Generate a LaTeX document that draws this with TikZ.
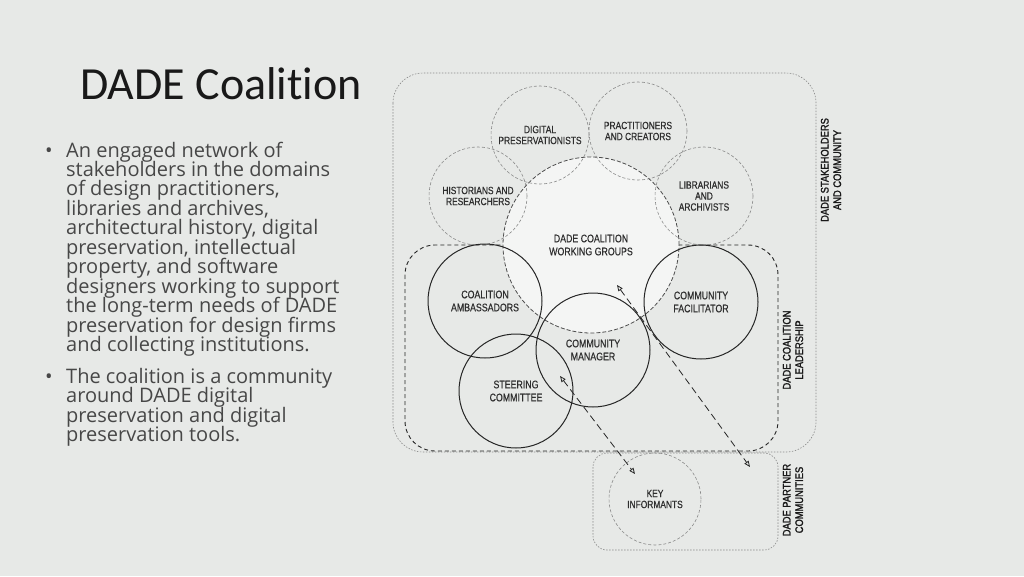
\documentclass[tikz,border=0pt]{standalone}
\usepackage{fontspec}
\setmainfont[Ligatures=NoCommon]{Carlito}
\newfontfamily\bodyfont{Open Sans}
\newfontfamily\diafont[FakeStretch=0.8,FakeBold=0.4]{Liberation Sans}
\newfontfamily\diabold[FakeStretch=0.85,FakeBold=1.6]{Liberation Sans}
\usepackage{xcolor}
\usetikzlibrary{arrows.meta}

\definecolor{slidebg}{HTML}{E7E9E7}
\definecolor{wgfill}{HTML}{F4F5F4}
\definecolor{inkgrey}{HTML}{2E2E2E}
\definecolor{lightline}{HTML}{8A8A8A}

\begin{document}
\begin{tikzpicture}[x=1pt, y=-1pt,
    member/.style={circle, draw=lightline, dash pattern=on 3pt off 2pt, line width=0.6pt,
      align=center, inner sep=0pt, minimum size=98pt, text=inkgrey,
      font=\diafont\fontsize{10.5}{11}\selectfont},
    leader/.style={circle, draw=black!85, line width=1pt, align=center, inner sep=0pt,
      minimum size=114pt, text=inkgrey, font=\diafont\fontsize{11}{13}\selectfont},
    sidelabel/.style={rotate=90, align=center, inner sep=0pt, text=black!90,
      font=\diabold\fontsize{11}{12.5}\selectfont},
    faintbox/.style={draw=lightline, dash pattern=on 1.5pt off 1.5pt, line width=0.6pt},
    link/.style={draw=black!85, dash pattern=on 7pt off 4pt, line width=0.8pt,
      {Triangle[open,length=6pt,width=5pt]}-{Triangle[open,length=6pt,width=5pt]}},
    bodytext/.style={anchor=base west, inner sep=0pt, text=black!72,
      font=\bodyfont\fontsize{20}{20}\selectfont}]

    \fill[slidebg] (0,0) rectangle (1024,576);

    \draw[faintbox, rounded corners=30pt] (393,73) rectangle (816,452);
    \draw[black!85, dash pattern=on 4pt off 3pt, line width=0.9pt, rounded corners=30pt]
        (405,245) rectangle (778,451);
    \draw[faintbox, rounded corners=14pt] (593,453) rectangle (778,550);

    \node (wg) [circle, fill=wgfill, draw=black!70, dash pattern=on 4pt off 2pt,
        line width=0.8pt, minimum size=176pt, inner sep=0pt, align=center, text=inkgrey,
        font=\diafont\fontsize{11}{13}\selectfont] at (591,245)
        {DADE COALITION\\WORKING GROUPS};

    \node (dp) [member] at (540,135) {DIGITAL\\PRESERVATIONISTS};
    \node (pc) [member] at (638,131) {PRACTITIONERS\\AND CREATORS};
    \node (hr) [member] at (478,196) {HISTORIANS AND\\RESEARCHERS};
    \node (la) [member] at (704,196) {LIBRARIANS\\AND\\ARCHIVISTS};

    \node (ca) [leader] at (485,301) {COALITION\\AMBASSADORS};
    \node (cf) [leader] at (701,302) {COMMUNITY\\FACILITATOR};
    \node (cm) [leader] at (593,350) {COMMUNITY\\MANAGER};
    \node (sc) [leader] at (516,391) {STEERING\\COMMITTEE};

    \node (ki) [member, minimum size=92pt] at (655,499) {KEY\\INFORMANTS};

    \coordinate (wgend) at (617,285);
    \coordinate (farend) at (750,467);
    \coordinate (scend) at (560,376);
    \coordinate (kiend) at (635,474);
    \draw[link] (wgend) -- (farend);
    \draw[link] (scend) -- (kiend);

    \node (stake) [sidelabel] at (831,170) {DADE STAKEHOLDERS\\AND COMMUNITY};
    \node (lead) [sidelabel] at (793,350) {DADE COALITION\\LEADERSHIP};
    \node (part) [sidelabel] at (793,500) {DADE PARTNER\\COMMUNITIES};

    \node (title) [anchor=base west, inner sep=0pt, text=black!90,
        font=\fontsize{46}{46}\selectfont] at (80,99) {DADE Coalition};

    \node (b1) [bodytext] at (45,157) {•};
    \foreach \t [count=\i from 0] in {An engaged network of, stakeholders in the domains,
        {of design practitioners,}, {libraries and archives,}, {architectural history, digital},
        {preservation, intellectual}, {property, and software}, designers working to support,
        the long-term needs of DADE, preservation for design firms,
        and collecting institutions.}
        \node (p\i) [bodytext] at (66,157+19.45*\i) {\t};

    \node (b2) [bodytext] at (45,383) {•};
    \foreach \t [count=\i from 0] in {The coalition is a community, around DADE digital,
        preservation and digital, preservation tools.}
        \node (q\i) [bodytext] at (66,383+19.5*\i) {\t};
\end{tikzpicture}
\end{document}
